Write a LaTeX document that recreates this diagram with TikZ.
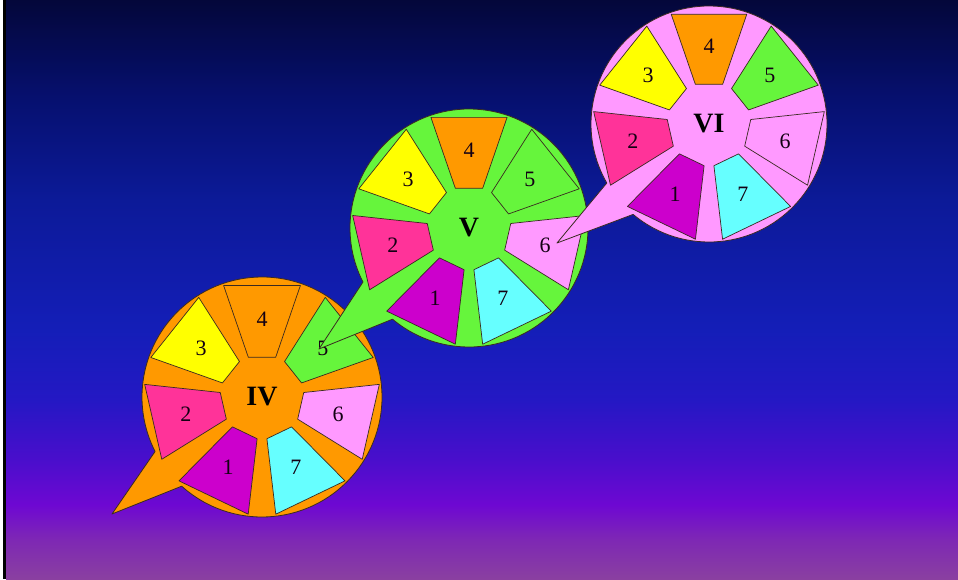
\documentclass[tikz,border=0pt]{standalone}
\usepackage{fontspec}
\setmainfont{Liberation Serif}
\definecolor{cPurple}{HTML}{CC00CC}
\definecolor{cRose}{HTML}{FF3399}
\definecolor{cYellow}{HTML}{FFFF00}
\definecolor{cOrange}{HTML}{FF9900}
\definecolor{cGreen}{HTML}{66F53C}
\definecolor{cPink}{HTML}{FF99FF}
\definecolor{cCyan}{HTML}{66FFFF}
\definecolor{outl}{HTML}{3A2A20}
\definecolor{bgA}{HTML}{04073A}
\definecolor{bgB}{HTML}{061070}
\definecolor{bgC}{HTML}{0C1A98}
\definecolor{bgD}{HTML}{141EB8}
\definecolor{bgE}{HTML}{2418C4}
\definecolor{bgF}{HTML}{4A0ECC}
\definecolor{bgG}{HTML}{6E08D2}
\definecolor{bgH}{HTML}{7E28B4}
\definecolor{bgI}{HTML}{8A40A0}
\pgfdeclareverticalshading{bgshade}{100bp}{color(0bp)=(bgI); color(25bp)=(bgI); color(28.37bp)=(bgH); color(31.39bp)=(bgG); color(35.28bp)=(bgF); color(40.46bp)=(bgE); color(46.5bp)=(bgD); color(57.73bp)=(bgC); color(66.36bp)=(bgB); color(75bp)=(bgA); color(100bp)=(bgA)}
\tikzset{
  bubble/.style={draw=outl, line width=0.8pt, line join=round},
  sector/.style={draw=outl, line width=0.7pt, line join=round},
  digit/.style={font=\fontsize{22}{24}\selectfont, text=black!85!violet, inner sep=0pt},
  roman/.style={font=\fontsize{28}{30}\selectfont\bfseries, text=black, inner sep=0pt},
}
% #1 cx, #2 cy, #3 r, #4 colour, #5 tip x, #6 tip y, #7 a1, #8 a2, #9 name
\newcommand\mywheel[9]{%
  \coordinate (#9-c) at (#1,#2);
  \coordinate (#9-tip) at (#5,#6);
  \path[bubble, fill=#4] ([shift={(#7:#3)}]#9-c) -- (#9-tip) -- ([shift={(#8:#3)}]#9-c)
     arc[start angle=#8, end angle=#7+360, radius=#3] -- cycle;
  \foreach \k/\col in {1/cPurple,2/cRose,3/cYellow,4/cOrange,5/cGreen,6/cPink,7/cCyan}{
    \pgfmathsetmacro\th{90-(\k-4)*51.4286}
    \pgfmathsetmacro\ro{#3-2}
    \path[sector, fill=\col] ([shift={(\th-19:42)}]#9-c) -- ([shift={(\th-19:\ro)}]#9-c)
        -- ([shift={(\th+19:\ro)}]#9-c) -- ([shift={(\th+19:42)}]#9-c) -- cycle;
    \node[digit] (#9-\k) at ([shift={(\th:78)}]#9-c) {\k};
  }
  \node[roman] (#9-name) at (#9-c) {#9};
}
\begin{document}
\begin{tikzpicture}[x=1pt,y=1pt]
\useasboundingbox (0,0) rectangle (958,579);
\fill[white] (0,0) rectangle (958,579);
\shade[shading=bgshade] (6,0) rectangle (958,579);
\fill[black] (3,0) rectangle (6,579);
\mywheel{262}{182}{120}{cOrange}{112}{65}{207}{228}{IV}
\mywheel{469}{351}{119}{cGreen}{319}{230}{207}{230}{V}
\mywheel{709}{455}{118}{cPink}{557}{336}{210}{230}{VI}
\end{tikzpicture}
\end{document}
